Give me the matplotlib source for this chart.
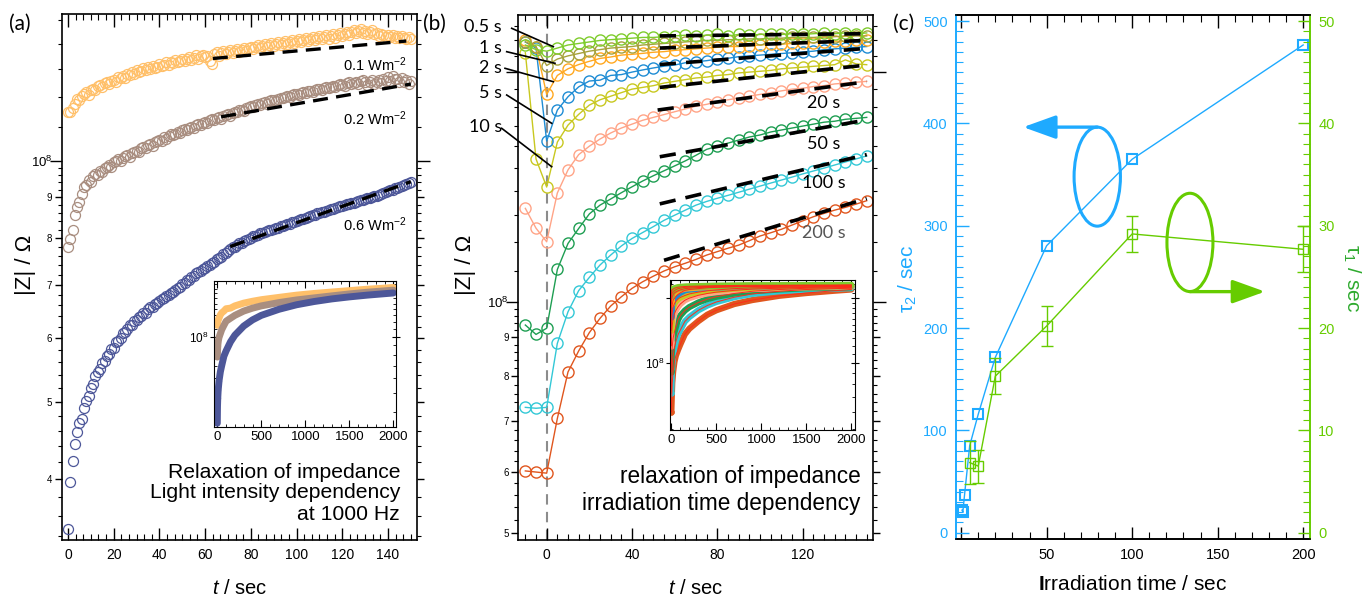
import numpy as np
import matplotlib
matplotlib.use('Agg')
import matplotlib.pyplot as plt
from matplotlib.ticker import FixedLocator, FixedFormatter, NullFormatter, MultipleLocator
from matplotlib.patches import Ellipse
from matplotlib.lines import Line2D

plt.rcParams['font.family'] = ['Liberation Sans', 'DejaVu Sans']
plt.rcParams['mathtext.fontset'] = 'custom'
plt.rcParams['mathtext.rm'] = 'Liberation Sans'
plt.rcParams['mathtext.it'] = 'Liberation Sans:italic'
plt.rcParams['mathtext.bf'] = 'Liberation Sans:bold'

# ---------------- data : panel (a) (|Z| in 1e6 Ohm, 1 s sampling) ----------------
a_time = np.arange(0, 151)
a_orange = [115.1, 115.0, 116.4, 117.8, 119.5, 119.0, 120.4, 121.2, 121.8, 120.9,
            122.6, 123.0, 122.4, 123.8, 124.2, 123.5, 124.9, 125.3, 124.6, 125.8,
            126.2, 125.5, 127.1, 126.7, 127.6, 126.9, 128.3, 127.8, 129.0, 128.2,
            129.6, 128.9, 129.3, 130.4, 129.6, 130.9, 130.2, 131.3, 130.5, 130.9,
            132.0, 131.1, 131.7, 132.6, 131.5, 132.9, 132.2, 133.4, 132.6, 133.1,
            134.0, 133.2, 133.8, 134.6, 133.5, 134.3, 135.3, 134.1, 134.9, 135.6,
            134.6, 135.2, 133.2, 132.1, 135.7, 136.5, 135.1, 136.2, 137.0, 135.8,
            136.6, 137.5, 136.3, 137.1, 137.9, 136.8, 137.6, 138.3, 137.2, 138.1,
            138.8, 137.7, 138.5, 139.3, 138.2, 139.0, 139.7, 138.6, 139.4, 140.2,
            139.1, 139.9, 140.6, 139.4, 140.3, 141.1, 139.8, 140.7, 141.5, 140.2,
            141.0, 141.8, 140.6, 141.4, 142.3, 141.0, 141.8, 142.7, 141.3, 142.2,
            143.1, 141.7, 142.5, 143.5, 142.0, 142.9, 143.8, 142.4, 143.3, 144.2,
            143.0, 144.0, 144.9, 143.6, 144.6, 145.6, 144.1, 145.2, 146.0, 144.5,
            145.3, 144.0, 144.8, 145.5, 143.8, 144.4, 143.2, 144.0, 143.4, 142.6,
            143.5, 142.8, 143.6, 142.4, 143.1, 142.3, 143.0, 142.2, 141.7, 142.6,
            141.9]
a_brown = [78.0, 79.8, 81.9, 85.4, 87.4, 88.9, 90.8, 92.7, 93.2, 94.6,
           94.1, 95.8, 96.3, 95.9, 97.1, 96.8, 97.9, 98.3, 98.6, 98.2,
           99.5, 99.9, 100.4, 99.9, 100.6, 101.3, 101.6, 101.1, 102.3, 102.6,
           102.9, 102.5, 103.6, 103.9, 103.7, 104.5, 104.9, 104.4, 105.5, 105.9,
           106.1, 105.8, 106.9, 106.5, 107.2, 107.8, 107.6, 107.9, 108.6, 108.2,
           109.1, 109.5, 109.2, 109.9, 110.2, 109.9, 110.8, 111.1, 110.7, 111.4,
           111.8, 111.4, 112.3, 112.6, 112.4, 112.9, 113.2, 112.8, 113.6, 113.9,
           114.2, 113.8, 114.6, 115.0, 114.9, 115.6, 115.8, 115.4, 116.3, 116.6,
           116.9, 116.5, 117.2, 117.5, 117.4, 117.9, 118.2, 117.8, 118.6, 118.9,
           119.1, 118.7, 119.4, 119.8, 119.6, 120.1, 120.3, 119.9, 120.7, 121.0,
           121.1, 120.7, 121.4, 121.8, 121.5, 122.0, 122.2, 121.8, 122.5, 122.9,
           122.9, 122.5, 123.2, 123.6, 123.3, 123.7, 123.8, 123.4, 124.2, 124.6,
           124.4, 123.9, 124.9, 125.3, 124.5, 125.0, 125.4, 124.6, 125.6, 126.0,
           125.2, 124.3, 125.5, 125.9, 124.8, 125.4, 126.1, 125.0, 126.4, 125.8,
           127.2, 125.6, 127.6, 126.3, 126.5, 125.2, 126.8, 125.5, 126.0, 124.5,
           125.6]
a_blue = [34.7, 39.7, 42.2, 44.3, 45.8, 47.0, 47.6, 49.1, 50.1, 50.8,
          52.0, 52.6, 53.9, 54.5, 55.0, 55.9, 56.2, 57.0, 57.4, 58.1,
          58.4, 59.3, 59.6, 60.1, 60.9, 61.1, 61.6, 62.3, 62.4, 63.0,
          63.2, 63.8, 64.0, 64.5, 64.6, 65.2, 65.6, 65.7, 66.3, 66.4,
          66.8, 67.1, 67.3, 67.8, 67.9, 68.4, 68.6, 69.0, 69.4, 69.6,
          70.2, 70.4, 70.9, 71.0, 71.6, 71.8, 72.3, 72.5, 72.9, 73.2,
          73.5, 73.9, 74.1, 74.6, 74.8, 75.3, 75.5, 75.9, 76.4, 76.6,
          77.2, 77.5, 77.9, 78.1, 78.4, 78.8, 79.0, 79.3, 79.5, 79.9,
          80.1, 80.4, 80.6, 80.8, 81.1, 81.2, 81.5, 81.6, 81.9, 82.0,
          82.2, 82.3, 82.5, 82.8, 82.9, 83.1, 83.3, 83.4, 83.7, 83.9,
          84.1, 84.2, 84.5, 84.6, 84.9, 85.0, 85.3, 85.4, 85.6, 85.9,
          86.0, 86.2, 86.3, 86.6, 86.7, 87.0, 87.1, 87.3, 87.4, 87.7,
          87.8, 88.1, 88.2, 88.3, 88.6, 88.6, 88.9, 89.1, 89.2, 89.4,
          89.5, 89.7, 89.9, 90.0, 90.2, 90.4, 90.6, 90.9, 91.0, 91.3,
          91.5, 91.8, 92.0, 92.3, 92.5, 92.8, 93.0, 93.2, 93.5, 93.7,
          94.0]
a_labels = ['0.1 Wm$^{-2}$', '0.2 Wm$^{-2}$', '0.6 Wm$^{-2}$']
a_colors = ['#FFC06A', '#A98E80', '#4D5799']
# linear fits (t0, t1, |Z|0, |Z|1) in 1e6 Ohm
a_fit_t0 = [63.4, 67.0, 71.0]
a_fit_t1 = [148.0, 150.0, 150.0]
a_fit_v0 = [134.1, 113.4, 78.1]
a_fit_v1 = [141.0, 124.6, 94.1]

# inset (a): long-time relaxation (1e6 Ohm)
ia_time = [0, 2, 5, 10, 20, 35, 50, 75, 100, 150, 200, 300, 400, 500, 700, 900,
           1100, 1300, 1500, 1700, 1900, 2000]
ia_orange = [115, 116, 120, 122.6, 126.2, 130.9, 134, 137, 141, 142, 146, 151, 154.5,
             157.5, 162, 166.5, 170, 173, 176, 179, 181.5, 183]
ia_brown = [78, 82, 89, 94, 99.5, 104, 109, 115, 121, 125.5, 130, 137, 142, 146, 152,
            157, 161, 165, 169, 172.5, 175.5, 177]
ia_blue = [34.7, 42.2, 47, 52, 58.4, 65.2, 70.2, 78.8, 84.1, 94, 102, 114, 123, 130,
           140, 148, 154, 159, 163, 166.5, 169.5, 171]

# ---------------- data : panel (b) (|Z| in 1e7 Ohm, 5 s sampling) ----------------
b_time = np.arange(-10, 151, 5)
b_names = ['0.5 s', '1 s', '2 s', '5 s', '10 s', '20 s', '50 s', '100 s', '200 s']
b_colors = ['#7FCC2C', '#A6A23C', '#FFA820', '#1E8CD4', '#C8C820', '#FFA487',
            '#1E9E52', '#33C8D6', '#E0561E']
b_05 = [21.7, 21.4, 21.3, 21.5, 21.7, 21.8, 21.9, 22.0, 22.05, 22.1, 22.15, 22.2, 22.2,
        22.25, 22.3, 22.35, 22.3, 22.35, 22.4, 22.3, 22.4, 22.35, 22.4, 22.45, 22.4,
        22.45, 22.4, 22.45, 22.5, 22.45, 22.5, 22.45, 22.5]
b_1 = [21.9, 21.6, 20.4, 20.8, 21.0, 21.15, 21.3, 21.4, 21.5, 21.55, 21.6, 21.7, 21.75,
       21.8, 21.85, 21.9, 21.95, 22.0, 22.0, 22.05, 22.05, 22.1, 22.1, 22.15, 22.15,
       22.2, 22.2, 22.2, 22.25, 22.25, 22.3, 22.3, 22.3]
b_2 = [22.05, 21.6, 18.7, 19.8, 20.2, 20.46, 20.66, 20.84, 20.93, 21.05, 21.1, 21.16,
       21.23, 21.27, 21.35, 21.4, 21.45, 21.5, 21.55, 21.6, 21.6, 21.65, 21.7, 21.75,
       21.75, 21.8, 21.85, 21.85, 21.9, 21.95, 21.95, 22.0, 22.0]
b_5 = [21.9, 21.5, 16.25, 17.84, 18.57, 19.13, 19.47, 19.52, 19.8, 19.85, 20.0, 20.13,
       20.25, 20.36, 20.43, 20.57, 20.63, 20.7, 20.8, 20.85, 20.95, 21.0, 21.05, 21.1,
       21.15, 21.2, 21.25, 21.3, 21.4, 21.45, 21.5, 21.55, 21.6]
b_10 = [21.2, 15.4, 14.15, 16.2, 17.05, 17.61, 18.11, 18.4, 18.6, 18.8, 19.0, 19.1,
        19.2, 19.35, 19.45, 19.55, 19.65, 19.7, 19.8, 19.85, 19.95, 20.0, 20.05, 20.1,
        20.2, 20.25, 20.3, 20.35, 20.4, 20.45, 20.75, 20.5, 20.45]
b_20 = [13.27, 12.5, 12.0, 13.9, 14.9, 15.6, 16.0, 16.35, 16.65, 16.9, 17.1, 17.3,
        17.45, 17.6, 17.75, 17.9, 18.05, 18.15, 18.3, 18.4, 18.5, 18.6, 18.7, 18.8,
        18.9, 19.0, 19.05, 19.15, 19.2, 19.3, 19.35, 19.4, 19.45]
b_50 = [9.34, 9.08, 9.25, 11.04, 11.94, 12.49, 13.05, 13.4, 13.65, 13.91, 14.16, 14.41,
        14.64, 14.86, 15.08, 15.31, 15.57, 15.85, 16.0, 16.15, 16.3, 16.45, 16.55, 16.7,
        16.8, 16.9, 17.0, 17.1, 17.2, 17.25, 17.35, 17.4, 17.45]
b_100 = [7.29, 7.27, 7.29, 8.84, 9.72, 10.36, 10.78, 11.19, 11.53, 11.85, 12.12, 12.34,
         12.56, 12.8, 13.0, 13.2, 13.4, 13.55, 13.68, 13.8, 13.93, 14.06, 14.19, 14.32,
         14.45, 14.58, 14.72, 14.85, 14.98, 15.12, 15.26, 15.4, 15.54]
b_200 = [6.02, 6.0, 5.98, 7.05, 8.11, 8.64, 9.13, 9.53, 9.89, 10.17, 10.43, 10.64,
         10.82, 10.99, 11.13, 11.25, 11.38, 11.53, 11.65, 11.77, 11.88, 12.04, 12.21,
         12.33, 12.46, 12.62, 12.78, 12.94, 13.07, 13.2, 13.31, 13.44, 13.58]
b_series = [b_05, b_1, b_2, b_5, b_10, b_20, b_50, b_100, b_200]
# linear fits (1e7 Ohm)
b_fit_t0 = [53, 53, 53, 53, 52, 53, 53, 55]
b_fit_t1 = [150, 150, 150, 150, 150, 149, 150, 150]
b_fit_v0 = [22.3, 21.5, 20.46, 19.1, 17.84, 15.5, 13.45, 11.35]
b_fit_v1 = [22.45, 22.0, 21.48, 20.43, 19.43, 17.3, 15.6, 13.67]

# inset (b) long-time relaxation (1e7 Ohm)
ib_time = [-10, -5, 0, 5, 10, 20, 35, 50, 75, 100, 150, 200, 300, 400, 500, 700, 900,
           1200, 1500, 1800, 2000]
ib_series = [
    [21.7, 21.4, 21.3, 21.5, 21.7, 21.9, 22.1, 22.2, 22.35, 22.4, 22.5, 22.55, 22.6, 22.65, 22.7, 22.75, 22.8, 22.8, 22.85, 22.85, 22.9],
    [21.9, 21.6, 20.4, 20.8, 21.0, 21.3, 21.55, 21.75, 22.0, 22.1, 22.3, 22.35, 22.45, 22.5, 22.55, 22.6, 22.65, 22.7, 22.75, 22.75, 22.8],
    [22.05, 21.6, 18.7, 19.8, 20.2, 20.66, 21.05, 21.23, 21.5, 21.7, 22.0, 22.1, 22.25, 22.35, 22.4, 22.5, 22.55, 22.6, 22.65, 22.7, 22.7],
    [21.9, 21.5, 16.25, 17.84, 18.57, 19.47, 19.85, 20.25, 20.7, 21.05, 21.6, 21.8, 22.0, 22.2, 22.3, 22.4, 22.5, 22.55, 22.6, 22.6, 22.6],
    [21.2, 15.4, 14.15, 16.2, 17.05, 18.11, 18.8, 19.2, 19.7, 20.05, 20.45, 20.8, 21.2, 21.5, 21.7, 22.0, 22.2, 22.3, 22.4, 22.5, 22.5],
    [13.27, 12.5, 12.0, 13.9, 14.9, 16.0, 16.9, 17.45, 18.15, 18.7, 19.45, 19.9, 20.5, 20.9, 21.2, 21.6, 21.9, 22.1, 22.3, 22.4, 22.4],
    [9.34, 9.08, 9.25, 11.04, 11.94, 13.05, 13.91, 14.64, 15.85, 16.55, 17.45, 18.1, 19.0, 19.7, 20.2, 20.9, 21.4, 21.8, 22.1, 22.2, 22.3],
    [7.29, 7.27, 7.29, 8.84, 9.72, 10.78, 11.85, 12.56, 13.55, 14.19, 15.54, 16.3, 17.5, 18.4, 19.1, 20.1, 20.8, 21.4, 21.8, 22.0, 22.1],
    [6.02, 6.0, 5.98, 7.05, 8.11, 9.13, 10.17, 10.82, 11.53, 12.21, 13.58, 14.4, 15.6, 16.7, 17.5, 18.7, 19.5, 20.4, 21.0, 21.5, 21.8],
]

# ---------------- data : panel (c) ----------------
c_irr_tau2 = [0.5, 1, 2, 5, 10, 20, 50, 100, 200]
c_tau2 = [22, 20, 37, 85, 115.7, 171.4, 280.5, 365, 476.7]
c_irr_tau1 = [5, 10, 20, 50, 100, 200]
c_tau1 = [6.85, 6.5, 15.3, 20.2, 29.2, 27.7]
c_tau1_err = [2.1, 1.6, 1.75, 2.0, 1.75, 2.25]
c_blue = '#1EAAFF'
c_green = '#66CC00'

# ---------------- figure ----------------
W, H = 1362, 599
fig = plt.figure(figsize=(W / 100, H / 100), dpi=100)


def fx(px):
    return px / W


def fy(py):
    return 1 - py / H


def axes_px(x0, y0, x1, y1):
    return fig.add_axes([fx(x0), fy(y1), fx(x1) - fx(x0), fy(y0) - fy(y1)])


HUM = ['Lato', 'DejaVu Sans']
SANS = ['Liberation Sans', 'DejaVu Sans']
TEN8 = r'$\mathregular{10^{8}}$'


def style_log_y(ax, majors, labels, minors, biglen=9):
    ax.yaxis.set_major_locator(FixedLocator(majors))
    ax.yaxis.set_major_formatter(FixedFormatter(labels))
    ax.yaxis.set_minor_locator(FixedLocator(minors))
    ax.yaxis.set_minor_formatter(NullFormatter())
    ax.tick_params(axis='y', which='major', direction='out', left=True, right=True,
                   length=5, width=1, labelsize=7, pad=2)
    ax.tick_params(axis='y', which='minor', direction='out', left=True, right=True,
                   length=3, width=0.8)
    for tk, lab in zip(ax.yaxis.get_major_ticks(), labels):
        if lab == TEN8 or lab == '':
            tk.tick1line.set_markersize(biglen)
            tk.tick2line.set_markersize(biglen)
        if lab == TEN8:
            tk.label1.set_fontsize(9.5)


# ======== panel (a) ========
ax_a = axes_px(62, 14, 417, 540)
ax_a.set_yscale('log')
for vals, col in zip([a_orange, a_brown, a_blue], a_colors):
    ax_a.plot(a_time, np.array(vals) * 1e6, 'o', ms=7.2, mfc='none', mec=col, mew=0.9)
for t0, t1, v0, v1 in zip(a_fit_t0, a_fit_t1, a_fit_v0, a_fit_v1):
    ax_a.plot([t0, t1], [v0 * 1e6, v1 * 1e6], color='k', lw=2.4, dashes=(4.5, 2.5))
ax_a.set_xlim(-2.6, 152.7)
ax_a.set_ylim(3.36e7, 1.524e8)
ax_a.xaxis.set_major_locator(MultipleLocator(20))
ax_a.xaxis.set_minor_locator(MultipleLocator(20 / 6))
ax_a.tick_params(axis='x', which='major', direction='in', top=True, bottom=True,
                 length=9, width=1, labelsize=10, pad=6)
ax_a.tick_params(axis='x', which='minor', direction='in', top=True, bottom=True,
                 length=4.5, width=0.8)
a_minor = [v * 1e6 for v in range(34, 100, 2) if v % 10 != 0] + [1.1e8, 1.2e8, 1.3e8, 1.4e8, 1.5e8]
style_log_y(ax_a, [4e7, 5e7, 6e7, 7e7, 8e7, 9e7, 1e8],
            ['4', '5', '6', '7', '8', '9', TEN8], a_minor)
for sp in ax_a.spines.values():
    sp.set_linewidth(1.2)

# inset (a)
ia = axes_px(214.3, 281, 396, 427.3)
ia.set_yscale('log')
for vals, col in zip([ia_orange, ia_brown, ia_blue], a_colors):
    ia.plot(ia_time, np.array(vals) * 1e6, '-', color=col, lw=5, solid_capstyle='round')
    ia.plot(ia_time[:5], np.array(vals[:5]) * 1e6, 'o', ms=3, mfc='none', mec=col, mew=0.8)
ia.set_xlim(-34, 2030)
ia.set_ylim(3.3e7, 1.98e8)
ia.xaxis.set_major_locator(MultipleLocator(500))
ia.xaxis.set_minor_locator(MultipleLocator(100))
ia.tick_params(axis='x', which='major', direction='in', top=True, bottom=True, length=5,
               labelsize=9.5, pad=3)
ia.tick_params(axis='x', which='minor', direction='in', top=True, bottom=True, length=2.5)
ia.yaxis.set_major_locator(FixedLocator([1e8]))
ia.yaxis.set_major_formatter(FixedFormatter([TEN8]))
ia.yaxis.set_minor_locator(FixedLocator([v * 1e7 for v in [4, 5, 6, 7, 8, 9, 11, 12, 13, 14, 15, 16, 17, 18, 19]]))
ia.yaxis.set_minor_formatter(NullFormatter())
ia.tick_params(axis='y', which='major', direction='inout', left=True, right=True, length=6,
               labelsize=8.5, pad=1)
ia.tick_params(axis='y', which='minor', direction='in', left=True, right=True, length=2.5)

# texts (a)
fig.text(fx(9), fy(23.5), '(a)', fontsize=15, family=HUM, va='center', ha='left')
for lab, py in zip(a_labels, [65, 119, 225]):
    fig.text(fx(407), fy(py), lab, fontsize=10.5, family=SANS, ha='right', va='center')
for line, py in zip(['Relaxation of impedance', 'Light intensity dependency', 'at 1000 Hz'],
                    [472, 493, 514]):
    fig.text(fx(400), fy(py), line, fontsize=15.2, family=SANS, ha='right', va='center')
fig.text(fx(25), fy(265), '|Z| / Ω', rotation=90, fontsize=16, family=SANS,
         ha='center', va='center')
fig.text(fx(240), fy(588), r'$\mathit{t}$ / sec', fontsize=14.5, family=SANS,
         ha='center', va='center')

# ======== panel (b) ========
ax_b = axes_px(518.3, 15, 872.7, 540)
ax_b.set_yscale('log')
ax_b.axvline(0, color='#8C8C8C', lw=1.5, dashes=(5, 3.5), zorder=0)
for vals, col in zip(b_series[::-1], b_colors[::-1]):
    ax_b.plot(b_time, np.array(vals) * 1e7, '-o', color=col, lw=1, ms=8, mfc='none',
              mec=col, mew=1)
for t0, t1, v0, v1 in zip(b_fit_t0, b_fit_t1, b_fit_v0, b_fit_v1):
    ax_b.plot([t0, t1], [v0 * 1e7, v1 * 1e7], color='k', lw=2.6, dashes=(4.5, 2.8))
ax_b.set_xlim(-13.3, 152.8)
ax_b.set_ylim(4.89e7, 2.375e8)
ax_b.xaxis.set_major_locator(FixedLocator([0, 40, 80, 120]))
ax_b.xaxis.set_minor_locator(MultipleLocator(5))
ax_b.tick_params(axis='x', which='major', direction='in', top=True, bottom=True,
                 length=9, width=1, labelsize=10, pad=6)
ax_b.tick_params(axis='x', which='minor', direction='in', top=True, bottom=True,
                 length=4.5, width=0.8)
b_minor = [v * 1e6 for v in range(50, 100, 2) if v % 10 != 0] + \
          [v * 1e7 for v in [11, 12, 13, 14, 15, 16, 17, 18, 19, 21, 22, 23]]
style_log_y(ax_b, [5e7, 6e7, 7e7, 8e7, 9e7, 1e8, 2e8],
            ['5', '6', '7', '8', '9', TEN8, ''], b_minor)
for sp in ax_b.spines.values():
    sp.set_linewidth(1.2)

# inset (b)
ib = axes_px(669.7, 280, 854.7, 430)
ib.set_yscale('log')
for vals, col in zip(ib_series[::-1], b_colors[::-1]):
    ib.plot(ib_time, np.array(vals) * 1e7, '-', color=col, lw=4.5, solid_capstyle='round')
    ib.plot(ib_time[:3], np.array(vals[:3]) * 1e7, 'o', ms=3.5, color=col)
for vals in ib_series:
    ib.plot(ib_time, np.array(vals) * 1e7, '-', color='#FF2A1A', lw=0.7)
ib.set_xlim(-18, 2038)
ib.set_ylim(4.94e7, 2.41e8)
ib.xaxis.set_major_locator(MultipleLocator(500))
ib.xaxis.set_minor_locator(MultipleLocator(100))
ib.tick_params(axis='x', which='major', direction='in', top=True, bottom=True, length=5,
               labelsize=9.5, pad=3)
ib.tick_params(axis='x', which='minor', direction='in', top=True, bottom=True, length=2.5)
ib.yaxis.set_major_locator(FixedLocator([1e8, 2e8]))
ib.yaxis.set_major_formatter(FixedFormatter([TEN8, '']))
ib.yaxis.set_minor_locator(FixedLocator([v * 1e7 for v in [5, 6, 7, 8, 9, 11, 12, 13, 14, 15, 16, 17, 18, 19, 21, 22, 23, 24]]))
ib.yaxis.set_minor_formatter(NullFormatter())
ib.tick_params(axis='y', which='major', direction='inout', left=True, right=True, length=6,
               labelsize=8.5, pad=1)
ib.tick_params(axis='y', which='minor', direction='in', left=True, right=True, length=2.5)

# texts (b)
fig.text(fx(423), fy(23.5), '(b)', fontsize=15, family=HUM, va='center', ha='left')
b_left_py = [26.7, 48.3, 68.3, 93.3, 126.7]
b_leaders = [((511.7, 28.3), (553.3, 46.7)), ((506.7, 51.7), (555, 63.3)),
             ((505, 68.3), (553.3, 81.7)), ((506.7, 95), (551.7, 123.3)),
             ((501.7, 128.3), (551.7, 166.7))]
for name, py, ((x0, y0), (x1, y1)) in zip(b_names[:5], b_left_py, b_leaders):
    fig.text(fx(502), fy(py), name, fontsize=13, family=HUM, ha='right', va='center')
    fig.add_artist(Line2D([fx(x0), fx(x1)], [fy(y0), fy(y1)], color='k', lw=1.2))
for name, py, col in zip(b_names[5:], [103, 144, 183, 233], ['k', 'k', 'k', '#555555']):
    fig.text(fx(823.5), fy(py), name, fontsize=13, family=HUM, ha='center', va='center',
             color=col)
for line, py in zip(['relaxation of impedance', 'irradiation time dependency'], [476.7, 503.3]):
    fig.text(fx(860.7), fy(py), line, fontsize=16.3, family=SANS, ha='right', va='center')
fig.text(fx(465), fy(265), '|Z| / Ω', rotation=90, fontsize=16, family=SANS,
         ha='center', va='center')
fig.text(fx(696), fy(588), r'$\mathit{t}$ / sec', fontsize=14.5, family=SANS,
         ha='center', va='center')

# ======== panel (c) ========
ax_c = axes_px(956, 15, 1310, 539.3)
ax_c2 = ax_c.twinx()
ax_c.plot(c_irr_tau2, c_tau2, '-s', color=c_blue, lw=1, ms=6.5, mfc='none', mec=c_blue,
          mew=1.5, zorder=3)
ax_c2.errorbar(c_irr_tau1, c_tau1, yerr=c_tau1_err, fmt='-s', color=c_green, lw=1, ms=7.5,
               mfc='none', mec=c_green, mew=1, capsize=4.5, elinewidth=1, capthick=1)
ax_c.set_xlim(-3, 204)
ax_c.set_ylim(-6.5, 506)
ax_c2.set_ylim(-0.65, 50.6)
ax_c.xaxis.set_major_locator(FixedLocator([0, 50, 100, 150, 200]))
ax_c.xaxis.set_major_formatter(FixedFormatter(['', '50', '100', '150', '200']))
ax_c.xaxis.set_minor_locator(MultipleLocator(10))
ax_c.tick_params(axis='x', which='major', direction='in', top=True, bottom=True, length=9,
                 width=1, labelsize=10.5, pad=6)
ax_c.tick_params(axis='x', which='minor', direction='in', top=True, bottom=True, length=5,
                 width=0.8)
ax_c.yaxis.set_major_locator(MultipleLocator(100))
ax_c.yaxis.set_minor_locator(MultipleLocator(10))
ax_c.tick_params(axis='y', which='major', direction='in', left=True, right=False, length=9,
                 width=1, labelsize=10.5, colors=c_blue, pad=6)
ax_c.tick_params(axis='y', which='minor', direction='in', left=True, right=False, length=5,
                 width=0.8, colors=c_blue)
ax_c2.yaxis.set_major_locator(MultipleLocator(10))
ax_c2.yaxis.set_minor_locator(MultipleLocator(1))
ax_c2.tick_params(axis='y', which='major', direction='in', right=True, left=False, length=9,
                  width=1, labelsize=10.5, colors=c_green, pad=6)
ax_c2.tick_params(axis='y', which='minor', direction='in', right=True, left=False, length=5,
                  width=0.8, colors=c_green)
for a_ in (ax_c, ax_c2):
    for sp in a_.spines.values():
        sp.set_linewidth(1.2)
ax_c2.spines['left'].set_color(c_blue)
ax_c2.spines['right'].set_color(c_green)
ax_c.spines['left'].set_color(c_blue)
ax_c.spines['right'].set_color(c_green)

# ellipses and arrows (in tau2 data coordinates)
ax_c.add_patch(Ellipse((79.6, 348), 27.1, 96.8, fill=False, ec=c_blue, lw=2.2, zorder=4))
ax_c.annotate('', xy=(36.3, 396.4), xytext=(79.6, 396.4),
              arrowprops=dict(arrowstyle='-|>,head_length=2.0,head_width=0.72', color=c_blue,
                              lw=2.4, shrinkA=0, shrinkB=0), zorder=4)
ax_c.add_patch(Ellipse((133.8, 283.7), 26.9, 96.1, fill=False, ec=c_green, lw=2.2, zorder=4))
ax_c.annotate('', xy=(177.7, 235.6), xytext=(133.8, 235.6),
              arrowprops=dict(arrowstyle='-|>,head_length=2.0,head_width=0.72', color=c_green,
                              lw=2.4, shrinkA=0, shrinkB=0), zorder=4)

fig.text(fx(893), fy(23.5), '(c)', fontsize=15, family=HUM, va='center', ha='left')
fig.text(fx(908), fy(279), r'$\mathregular{\tau_2}$ / sec', rotation=90, fontsize=15,
         family=SANS, color=c_blue, ha='center', va='center')
fig.text(fx(1352), fy(278), r'$\mathregular{\tau_1}$ / sec', rotation=270, fontsize=15,
         family=SANS, color='#2EAA2E', ha='center', va='center')
fig.text(fx(1133), fy(585), r'$\mathbf{I}$rradiation time / sec', fontsize=15,
         family=SANS, ha='center', va='center')

fig.savefig('out.png', dpi=100)
